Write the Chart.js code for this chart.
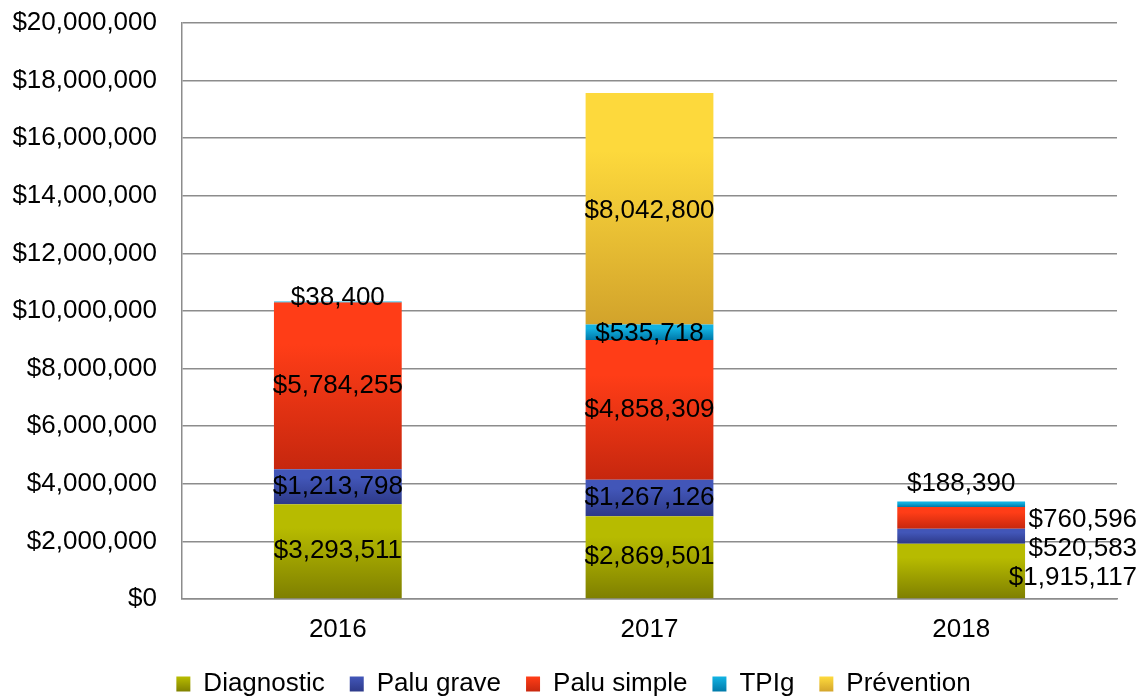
<!DOCTYPE html>
<html>
<head>
<meta charset="utf-8">
<script src="https://cdn.jsdelivr.net/npm/chart.js@4.4.1/dist/chart.umd.min.js"></script>
<style>
  html, body { margin: 0; padding: 0; background: #ffffff; }
  #wrap { width: 1145px; height: 697px; position: relative; }
</style>
</head>
<body>
<div id="wrap"><canvas id="c" width="1145" height="697"></canvas></div>
<script>
const categories = ['2016', '2017', '2018'];
const seriesNames = ['Diagnostic', 'Palu grave', 'Palu simple', 'TPIg', 'Prévention'];
const diagnostic = [3293511, 2869501, 1915117];
const paluGrave = [1213798, 1267126, 520583];
const paluSimple = [5784255, 4858309, 760596];
const tpig = [38400, 535718, 188390];
const prevention = [0, 8042800, 0];
const yTicks = [0, 2000000, 4000000, 6000000, 8000000, 10000000, 12000000, 14000000, 16000000, 18000000, 20000000];

const seriesValues = [diagnostic, paluGrave, paluSimple, tpig, prevention];
const topColors = ['#b7bb00', '#4256b8', '#ff3d17', '#12b2e2', '#fdd93c'];
const bottomColors = ['#7e7f00', '#2d3988', '#c6270e', '#0078a8', '#d2a32b'];

function fmt(v) { return '$' + v.toLocaleString('en-US'); }

function segGradient(ctx, i) {
  const chart = ctx.chart;
  const y = chart.scales && chart.scales.y;
  if (ctx.type !== 'data' || !y || !chart.chartArea) return topColors[i];
  const di = ctx.dataIndex;
  let base = 0;
  for (let k = 0; k < i; k++) base += seriesValues[k][di];
  const top = base + seriesValues[i][di];
  const y0 = y.getPixelForValue(base), y1 = y.getPixelForValue(top);
  if (!isFinite(y0) || !isFinite(y1) || Math.abs(y0 - y1) < 0.5) return topColors[i];
  const g = chart.ctx.createLinearGradient(0, y1, 0, y0);
  g.addColorStop(0, topColors[i]);
  g.addColorStop(0.25, topColors[i]);
  g.addColorStop(1, bottomColors[i]);
  return g;
}

const datasets = seriesNames.map((name, i) => ({
  label: name,
  data: seriesValues[i],
  backgroundColor: (ctx) => segGradient(ctx, i),
  borderWidth: 0,
  barPercentage: 0.41,
  categoryPercentage: 1.0
}));

// Label placement tweaks keyed by "datasetIndex-dataIndex"
const labelAdjust = {
  '3-0': { dy: -4 },
  '4-1': { dy: 2 },
  '3-1': { dy: 2 },
  '3-2': { dy: -20 },
  '2-2': { side: true, dy: 2 },
  '1-2': { side: true, dy: 12 },
  '0-2': { side: true, dy: 7 }
};

const labelPlugin = {
  id: 'segLabels',
  afterLayout(chart) {
    if (chart.legend) {
      chart.legend.top += 10; chart.legend.bottom += 10;
      chart.legend.left += 15; chart.legend.right += 15;
    }
    if (chart.scales.x) chart.scales.x.bottom = chart.height;
  },
  afterDatasetsDraw(chart) {
    const ctx = chart.ctx;
    ctx.save();
    ctx.font = '26px "Liberation Sans", Arial, sans-serif';
    ctx.fillStyle = '#000000';
    ctx.textBaseline = 'middle';
    chart.data.datasets.forEach((ds, i) => {
      const meta = chart.getDatasetMeta(i);
      meta.data.forEach((bar, j) => {
        const v = ds.data[j];
        if (!v) return;
        const adj = labelAdjust[i + '-' + j] || {};
        const yc = (bar.y + bar.base) / 2 + (adj.dy || 0);
        if (adj.side) {
          ctx.textAlign = 'right';
          ctx.fillText(fmt(v), bar.x + bar.width / 2 + 112, yc);
        } else {
          ctx.textAlign = 'center';
          ctx.fillText(fmt(v), bar.x, yc);
        }
      });
    });
    ctx.restore();
  }
};

new Chart(document.getElementById('c'), {
  type: 'bar',
  data: { labels: categories, datasets: datasets },
  options: {
    responsive: false,
    animation: false,
    devicePixelRatio: 1,
    layout: { padding: { top: 23, right: 28, left: 0, bottom: 0 } },
    plugins: {
      legend: {
        position: 'bottom',
        labels: {
          font: { family: '"Liberation Sans", Arial, sans-serif', size: 26 },
          color: '#000000',
          boxWidth: 14,
          boxHeight: 15,
          padding: 25,
          generateLabels(chart) {
            return chart.data.datasets.map((ds, i) => {
              const g = chart.ctx.createLinearGradient(0, 677, 0, 692);
              g.addColorStop(0, topColors[i]);
              g.addColorStop(1, bottomColors[i]);
              return {
                text: ds.label,
                fillStyle: g,
                strokeStyle: 'rgba(0,0,0,0)',
                lineWidth: 0,
                fontColor: '#000000',
                hidden: false,
                datasetIndex: i
              };
            });
          }
        }
      },
      tooltip: { enabled: false }
    },
    scales: {
      x: {
        stacked: true,
        afterFit(scale) { scale.height = 37; },
        grid: { display: false, drawTicks: false },
        border: { display: true, color: '#8c8c8c', width: 1.5 },
        ticks: {
          color: '#000000',
          padding: 15,
          font: { family: '"Liberation Sans", Arial, sans-serif', size: 26 }
        }
      },
      y: {
        stacked: true,
        min: 0,
        max: 20000000,
        afterBuildTicks(scale) { scale.ticks = yTicks.map(v => ({ value: v })); },
        afterFit(scale) { scale.width = 182; scale.paddingTop = 0; scale.paddingBottom = 0; },
        grid: { color: '#8c8c8c', lineWidth: 1.5, drawTicks: false },
        border: { display: true, color: '#8c8c8c', width: 1.5 },
        ticks: {
          color: '#000000',
          padding: 25,
          font: { family: '"Liberation Sans", Arial, sans-serif', size: 26 },
          callback: (v) => fmt(v)
        }
      }
    }
  },
  plugins: [labelPlugin]
});
</script>
</body>
</html>
